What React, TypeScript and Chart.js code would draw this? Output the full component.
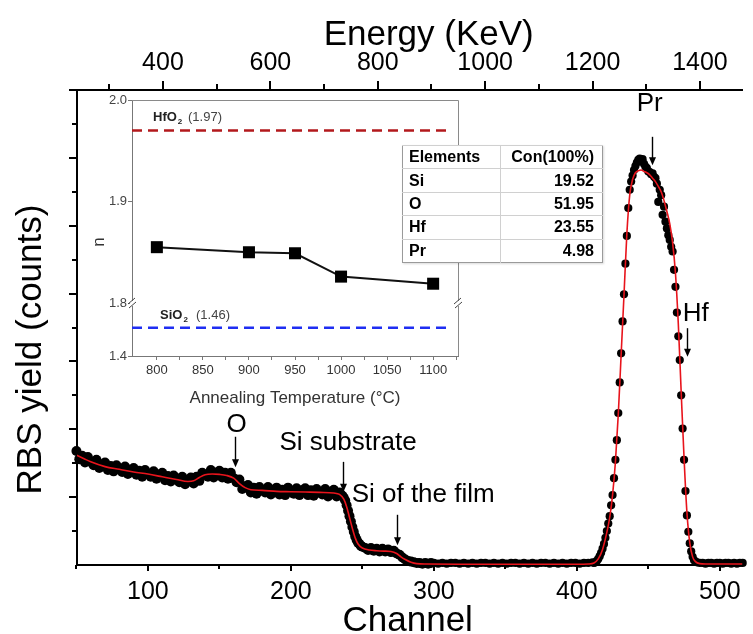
import React, { useEffect, useRef } from "react";
import { Chart, registerables } from "chart.js";

Chart.register(...registerables);

const FONT = '"Liberation Sans", Arial, Helvetica, sans-serif';

// ---------------- RBS spectrum (yield in major-tick units vs channel) ----------------
const band1Start = 50;
const band1Step = 2;
const band1Counts = [
  1.68, 1.56, 1.61, 1.51, 1.59, 1.52, 1.47, 1.55, 1.43, 1.48,
  1.51, 1.4, 1.46, 1.38, 1.47, 1.41, 1.37, 1.45, 1.34, 1.4,
  1.43, 1.33, 1.39, 1.3, 1.4, 1.34, 1.3, 1.38, 1.27, 1.33,
  1.36, 1.25, 1.31, 1.23, 1.32, 1.26, 1.22, 1.3, 1.19, 1.25,
  1.29, 1.2, 1.3, 1.24, 1.36, 1.33, 1.3, 1.4, 1.29, 1.36,
  1.39, 1.29, 1.36, 1.27, 1.36, 1.28, 1.22, 1.26, 1.12, 1.16,
  1.18, 1.07, 1.14, 1.05, 1.15, 1.1, 1.07, 1.15, 1.04, 1.11,
  1.14, 1.04, 1.11, 1.03, 1.14, 1.08, 1.05, 1.13, 1.03, 1.1,
  1.13, 1.03, 1.1, 1.02, 1.12, 1.07, 1.04, 1.12, 1.01, 1.08,
  1.11, 1.01, 1.07,
];
const edgeStart = 235;
const edgeCounts = [
  1.04, 1.02, 0.99, 0.95, 0.88, 0.8, 0.72, 0.64, 0.56, 0.49, 0.42, 0.37, 0.33, 0.31, 0.28, 0.27,
];
const band2Start = 252;
const band2Step = 2;
const band2Counts = [
  0.25, 0.22, 0.25, 0.21, 0.24, 0.2, 0.24, 0.2, 0.23, 0.19, 0.21, 0.17,
  0.15, 0.11, 0.08, 0.06, 0.05, 0.04, 0.03, 0.03, 0.02, 0.03, 0.02, 0.03,
];
const flatStart = 300;
const flatStep = 3;
const flatCounts = [
  0.03, 0.02, 0.03, 0.02, 0.03, 0.03, 0.02, 0.03, 0.02, 0.03,
  0.02, 0.03, 0.03, 0.02, 0.03, 0.02, 0.03, 0.02, 0.03, 0.03,
  0.02, 0.03, 0.02, 0.03, 0.02, 0.03, 0.03, 0.02, 0.03, 0.02,
  0.03, 0.02, 0.03, 0.03, 0.02, 0.03, 0.03, 0.04,
];
const peakStart = 412;
const peakCounts = [
  0.03, 0.04, 0.06, 0.09, 0.13, 0.18, 0.24, 0.31, 0.4, 0.5,
  0.61, 0.72, 0.88, 1.03, 1.28, 1.55, 1.84, 2.24, 2.69, 3.12,
  3.59, 3.99, 4.44, 4.85, 5.26, 5.53, 5.65, 5.74, 5.82, 5.88,
  5.93, 5.97, 5.99, 5.95, 5.98, 5.91, 5.87, 5.85, 5.8, 5.79,
  5.76, 5.77, 5.72, 5.7, 5.62, 5.35, 5.53, 5.45, 5.16, 5.28,
  5.06, 4.96, 4.86, 4.79, 4.69, 4.62, 4.35, 4.1, 3.72, 3.37,
  3.02, 2.5, 2.01, 1.55, 1.09, 0.73, 0.49, 0.32, 0.2, 0.12,
  0.07, 0.05, 0.04,
];
const tailStart = 486;
const tailStep = 2;
const tailCounts = [
  0.03, 0.03, 0.02, 0.03, 0.03, 0.02, 0.03, 0.03, 0.02, 0.03, 0.03, 0.02, 0.03, 0.02, 0.03, 0.03,
];

// simulated (fit) spectrum
const fitChannels = [
  50, 55, 60, 70, 80, 90, 100, 110, 120, 128,
  132, 136, 140, 145, 150, 155, 160, 164, 168, 172,
  180, 190, 200, 210, 220, 230, 234, 237, 239, 241,
  243, 245, 247, 250, 255, 260, 265, 270, 274, 277,
  280, 284, 288, 295, 320, 360, 400, 408, 412, 415,
  418, 421, 423, 425, 427, 429, 431, 433, 435, 437,
  439, 441, 443, 445, 447, 449, 451, 453, 455, 457,
  459, 461, 463, 465, 467, 469, 471, 473, 475, 477,
  479, 481, 483, 486, 490, 500, 516,
];
const fitCounts = [
  1.62, 1.57, 1.52, 1.45, 1.41, 1.37, 1.34, 1.3, 1.26, 1.23,
  1.24, 1.29, 1.33, 1.34, 1.335, 1.32, 1.28, 1.2, 1.14, 1.11,
  1.1, 1.085, 1.08, 1.075, 1.07, 1.06, 1.04, 0.97, 0.86, 0.7,
  0.54, 0.4, 0.31, 0.25, 0.22, 0.21, 0.205, 0.2, 0.17, 0.12,
  0.08, 0.04, 0.02, 0.015, 0.012, 0.012, 0.012, 0.015, 0.03, 0.09,
  0.23, 0.48, 0.7, 1.03, 1.52, 2.22, 3.1, 3.98, 4.88, 5.45,
  5.68, 5.78, 5.81, 5.82, 5.8, 5.78, 5.75, 5.7, 5.65, 5.58,
  5.5, 5.37, 5.21, 5.03, 4.75, 4.3, 3.55, 2.55, 1.58, 0.78,
  0.33, 0.12, 0.05, 0.02, 0.015, 0.015, 0.015,
];

const channelTicks = [100, 200, 300, 400, 500];
const channelMinorTicks = [50, 100, 150, 200, 250, 300, 350, 400, 450, 500];
const energyTicks = [400, 600, 800, 1000, 1200, 1400];
const energyMinorTicks = [300, 400, 500, 600, 700, 800, 900, 1000, 1100, 1200, 1300, 1400];
const yieldTicks = [0.5, 1, 1.5, 2, 2.5, 3, 3.5, 4, 4.5, 5, 5.5, 6, 6.5, 7];

const CH_MIN = 50.4;
const CH_MAX = 515.8;
const E_MIN = 240;
const E_MAX = 1479;
const Y_MAX = 7;

// peak labels with arrows (channel, yield)
const peakLabels = [
  { text: "O", ch: 162, v: 1.96, align: "center", arrowCh: 160.6, arrowFrom: 1.89, arrowTo: 1.44 },
  { text: "Si substrate", ch: 192, v: 1.695, align: "left", arrowCh: 236.8, arrowFrom: 1.52, arrowTo: 1.08 },
  { text: "Si of the film", ch: 242.5, v: 0.93, align: "left", arrowCh: 274.2, arrowFrom: 0.74, arrowTo: 0.29 },
  { text: "Pr", ch: 451, v: 6.69, align: "center", arrowCh: 452.9, arrowFrom: 6.31, arrowTo: 5.89 },
  { text: "Hf", ch: 474.1, v: 3.6, align: "left", arrowCh: 477, arrowFrom: 3.49, arrowTo: 3.07 },
];

// ---------------- Inset: refractive index vs annealing temperature ----------------
const annealTemps = [800, 900, 950, 1000, 1100];
const refractiveIndex = [1.855, 1.85, 1.849, 1.826, 1.819];
const hfo2Index = 1.97;
const sio2Index = 1.46;
const T_MIN = 773;
const T_MAX = 1127;
const refLineEnd = 1115;
const insetTempTicks = [800, 825, 850, 875, 900, 925, 950, 975, 1000, 1025, 1050, 1075, 1100, 1125];
const upperTicks = [1.8, 1.9, 2.0];
const lowerTicks = [1.4];

// ---------------- Composition table ----------------
const tableHeader = ["Elements", "Con(100%)"];
const elementNames = ["Si", "O", "Hf", "Pr"];
const elementConc = [19.52, 51.95, 23.55, 4.98];

function seg(start: number, step: number, values: number[]) {
  return values.map((v, i) => ({ x: start + i * step, y: v }));
}

const mainDecor = {
  id: "mainDecor",
  afterDraw(chart: any) {
    const { ctx, chartArea } = chart;
    const { left, right, top, bottom } = chartArea;
    const xs = chart.scales.x;
    const xe = chart.scales.xTop;
    const ys = chart.scales.y;
    ctx.save();
    ctx.strokeStyle = "#000";
    ctx.lineWidth = 2;
    ctx.beginPath();
    channelMinorTicks.forEach((c) => {
      const p = Math.round(xs.getPixelForValue(c));
      const l = c % 100 === 0 ? 6 : 4;
      ctx.moveTo(p, bottom);
      ctx.lineTo(p, bottom + l);
    });
    energyMinorTicks.forEach((e) => {
      const p = Math.round(xe.getPixelForValue(e));
      const l = e % 200 === 0 ? 9 : 6;
      ctx.moveTo(p, top);
      ctx.lineTo(p, top - l);
    });
    yieldTicks.forEach((v) => {
      const p = Math.round(ys.getPixelForValue(v));
      const l = Number.isInteger(v) ? 8 : 5;
      ctx.moveTo(left, p);
      ctx.lineTo(left - l, p);
    });
    ctx.stroke();

    // axis titles
    ctx.fillStyle = "#000";
    ctx.font = `35px ${FONT}`;
    ctx.textAlign = "center";
    ctx.textBaseline = "alphabetic";
    ctx.fillText("Channel", (left + right) / 2 - 2, 631);
    ctx.fillText("Energy (KeV)", (left + right) / 2 + 19, 45);
    ctx.save();
    ctx.translate(41, (top + bottom) / 2 + 22);
    ctx.rotate(-Math.PI / 2);
    ctx.fillText("RBS yield (counts)", 0, 0);
    ctx.restore();

    // peak labels and arrows
    ctx.font = `26px ${FONT}`;
    peakLabels.forEach((a) => {
      ctx.textAlign = a.align as CanvasTextAlign;
      ctx.fillText(a.text, xs.getPixelForValue(a.ch), ys.getPixelForValue(a.v));
      const ax = Math.round(xs.getPixelForValue(a.arrowCh)) + 0.5;
      const y1 = ys.getPixelForValue(a.arrowFrom);
      const y2 = ys.getPixelForValue(a.arrowTo);
      ctx.lineWidth = 1.4;
      ctx.beginPath();
      ctx.moveTo(ax, y1);
      ctx.lineTo(ax, y2 - 6);
      ctx.stroke();
      ctx.beginPath();
      ctx.moveTo(ax - 3.5, y2 - 8);
      ctx.lineTo(ax + 3.5, y2 - 8);
      ctx.lineTo(ax, y2);
      ctx.closePath();
      ctx.fill();
    });
    ctx.restore();
  },
};

const insetDecor = {
  id: "insetDecor",
  afterDraw(chart: any) {
    const { ctx, chartArea } = chart;
    const { left, right, top, bottom } = chartArea;
    const yTop = chart.scales.yTop;
    const yBottom = chart.scales.yBottom;
    ctx.save();
    ctx.strokeStyle = "#8a8a8a";
    ctx.lineWidth = 1;
    ctx.beginPath();
    ctx.moveTo(left, Math.round(top) + 0.5);
    ctx.lineTo(Math.round(right) + 0.5, Math.round(top) + 0.5);
    ctx.lineTo(Math.round(right) + 0.5, bottom);
    ctx.stroke();

    // axis break marks
    const by = yTop.bottom;
    [left, right].forEach((ax) => {
      ctx.fillStyle = "#fff";
      ctx.fillRect(ax - 2, by - 2, 4, 5);
      ctx.strokeStyle = "#444";
      ctx.beginPath();
      ctx.moveTo(ax - 4, by + 1);
      ctx.lineTo(ax + 3, by - 5);
      ctx.moveTo(ax - 3, by + 5);
      ctx.lineTo(ax + 4, by - 1);
      ctx.stroke();
    });

    // reference labels
    const drawRef = (name: string, value: number, yPix: number, nameX: number, valX: number) => {
      const by2 = yPix - 9;
      ctx.textAlign = "left";
      ctx.textBaseline = "alphabetic";
      ctx.fillStyle = "#222";
      ctx.font = `bold 13px ${FONT}`;
      ctx.fillText(name, left + nameX, by2);
      const w = ctx.measureText(name).width;
      ctx.font = `bold 8px ${FONT}`;
      ctx.fillText("2", left + nameX + w + 1, by2 + 3);
      ctx.font = `13px ${FONT}`;
      ctx.fillStyle = "#444";
      ctx.fillText(`(${value.toFixed(2)})`, left + valX, by2);
    };
    drawRef("HfO", hfo2Index, yTop.getPixelForValue(hfo2Index), 21, 56);
    drawRef("SiO", sio2Index, yBottom.getPixelForValue(sio2Index), 28, 64);

    // y title "n"
    ctx.save();
    ctx.translate(44, 157);
    ctx.rotate(-Math.PI / 2);
    ctx.font = `17px ${FONT}`;
    ctx.fillStyle = "#333";
    ctx.textAlign = "center";
    ctx.fillText("n", 0, 0);
    ctx.restore();
    ctx.restore();
  },
};

export default function App() {
  const mainRef = useRef<HTMLCanvasElement>(null);
  const insetRef = useRef<HTMLCanvasElement>(null);

  useEffect(() => {
    const dots = [
      ...seg(band1Start, band1Step, band1Counts),
      ...seg(edgeStart, 1, edgeCounts),
      ...seg(band2Start, band2Step, band2Counts),
      ...seg(flatStart, flatStep, flatCounts),
      ...seg(peakStart, 1, peakCounts),
      ...seg(tailStart, tailStep, tailCounts),
    ];
    const fit = fitChannels.map((c, i) => ({ x: c, y: fitCounts[i] }));
    const dotRadius = (c: any) => (c.raw && c.raw.x < 300 ? 5 : 4.1);

    const main = new Chart(mainRef.current as HTMLCanvasElement, {
      type: "scatter",
      data: {
        datasets: [
          {
            label: "Experimental",
            data: dots,
            showLine: false,
            pointRadius: dotRadius,
            pointHoverRadius: dotRadius,
            pointBackgroundColor: "#000",
            pointBorderWidth: 0,
            clip: false,
            order: 1,
          } as any,
          {
            label: "Simulated",
            data: fit,
            showLine: true,
            borderColor: "#e8141c",
            borderWidth: 1.6,
            pointRadius: 0,
            cubicInterpolationMode: "monotone",
            order: 0,
          } as any,
        ],
      },
      options: {
        responsive: false,
        animation: false,
        events: [],
        layout: { padding: 0 },
        plugins: { legend: { display: false }, tooltip: { enabled: false } },
        scales: {
          x: {
            type: "linear",
            position: "bottom",
            min: CH_MIN,
            max: CH_MAX,
            afterBuildTicks: (s: any) => {
              s.ticks = channelTicks.map((v) => ({ value: v }));
            },
            afterFit: (s: any) => {
              s.height = 69;
            },
            grid: { display: false, drawTicks: false },
            border: { display: true, color: "#000", width: 2 },
            ticks: {
              font: { family: FONT, size: 25 },
              color: "#000",
              padding: 12,
              maxRotation: 0,
              callback: (v: any) => String(v),
            },
          },
          xTop: {
            type: "linear",
            position: "top",
            min: E_MIN,
            max: E_MAX,
            afterBuildTicks: (s: any) => {
              s.ticks = energyTicks.map((v) => ({ value: v }));
            },
            afterFit: (s: any) => {
              s.height = 90;
            },
            grid: { display: false, drawTicks: false },
            border: { display: true, color: "#000", width: 2 },
            ticks: {
              font: { family: FONT, size: 25 },
              color: "#000",
              padding: 12,
              maxRotation: 0,
              callback: (v: any) => String(v),
            },
          },
          y: {
            type: "linear",
            position: "left",
            min: 0,
            max: Y_MAX,
            afterFit: (s: any) => {
              s.width = 77;
            },
            grid: { display: false, drawTicks: false },
            border: { display: true, color: "#000", width: 2 },
            ticks: { display: false },
          },
        } as any,
      },
      plugins: [mainDecor],
    });

    const inset = new Chart(insetRef.current as HTMLCanvasElement, {
      type: "line",
      data: {
        datasets: [
          {
            label: "n",
            data: annealTemps.map((t, i) => ({ x: t, y: refractiveIndex[i] })),
            yAxisID: "yTop",
            borderColor: "#111",
            borderWidth: 2,
            pointStyle: "rect",
            pointRadius: 8.5,
            pointBackgroundColor: "#000",
            pointBorderColor: "#000",
            pointBorderWidth: 0,
          },
          {
            label: "HfO2",
            data: [
              { x: T_MIN, y: hfo2Index },
              { x: refLineEnd, y: hfo2Index },
            ],
            yAxisID: "yTop",
            borderColor: "#b3191c",
            borderDash: [10, 6],
            borderWidth: 2.5,
            pointRadius: 0,
          },
          {
            label: "SiO2",
            data: [
              { x: T_MIN, y: sio2Index },
              { x: refLineEnd, y: sio2Index },
            ],
            yAxisID: "yBottom",
            borderColor: "#1f2ef2",
            borderDash: [10, 6],
            borderWidth: 2.5,
            pointRadius: 0,
          },
        ] as any,
      },
      options: {
        responsive: false,
        animation: false,
        events: [],
        layout: { padding: { top: 15, right: 12, left: 0, bottom: 0 } },
        plugins: { legend: { display: false }, tooltip: { enabled: false } },
        scales: {
          x: {
            type: "linear",
            min: T_MIN,
            max: T_MAX,
            afterBuildTicks: (s: any) => {
              s.ticks = insetTempTicks.map((v) => ({ value: v }));
            },
            afterFit: (s: any) => {
              s.height = 59;
            },
            grid: { display: true, drawOnChartArea: false, drawTicks: true, tickLength: 4, color: "#777", lineWidth: 1 },
            border: { display: true, color: "#777", width: 1 },
            ticks: {
              font: { family: FONT, size: 13 },
              color: "#333",
              padding: 3,
              maxRotation: 0,
              autoSkip: false,
              callback: (v: any) => (Number(v) % 50 === 0 ? String(v) : ""),
            },
            title: {
              display: true,
              text: "Annealing Temperature (°C)",
              font: { family: FONT, size: 17 },
              color: "#333",
              padding: { top: 0, bottom: 6 },
            },
          },
          yBottom: {
            type: "linear",
            position: "left",
            stack: "n",
            stackWeight: 53,
            min: 1.4,
            max: 1.513,
            afterBuildTicks: (s: any) => {
              s.ticks = lowerTicks.map((v) => ({ value: v }));
            },
            afterFit: (s: any) => {
              s.width = 72;
            },
            grid: { display: true, drawOnChartArea: false, drawTicks: true, tickLength: 4, color: "#777" },
            border: { display: true, color: "#777", width: 1 },
            ticks: { font: { family: FONT, size: 13 }, color: "#444", padding: 1, callback: (v: any) => Number(v).toFixed(1) },
          },
          yTop: {
            type: "linear",
            position: "left",
            stack: "n",
            stackWeight: 203,
            min: 1.8,
            max: 2.0,
            afterBuildTicks: (s: any) => {
              s.ticks = upperTicks.map((v) => ({ value: v }));
            },
            afterFit: (s: any) => {
              s.width = 72;
            },
            grid: { display: true, drawOnChartArea: false, drawTicks: true, tickLength: 4, color: "#777" },
            border: { display: true, color: "#777", width: 1 },
            ticks: { font: { family: FONT, size: 13 }, color: "#444", padding: 1, callback: (v: any) => Number(v).toFixed(1) },
          },
        } as any,
      },
      plugins: [insetDecor],
    });

    return () => {
      main.destroy();
      inset.destroy();
    };
  }, []);

  const cellBase: React.CSSProperties = {
    padding: "0 8px 0 6px",
    borderTop: "1px solid #d0d0d0",
    lineHeight: "20px",
    whiteSpace: "nowrap",
  };

  return (
    <div style={{ position: "absolute", left: 0, top: 0, width: 753, height: 634, background: "#fff", overflow: "hidden" }}>
      <canvas ref={mainRef} width={753} height={634} style={{ position: "absolute", left: 0, top: 0, width: 753, height: 634 }} />
      <canvas ref={insetRef} width={410} height={330} style={{ position: "absolute", left: 60, top: 85, width: 410, height: 330 }} />
      <table
        style={{
          position: "absolute",
          left: 402,
          top: 145,
          width: 201,
          borderCollapse: "collapse",
          background: "#fff",
          fontFamily: FONT,
          fontWeight: "bold",
          fontSize: 16,
          color: "#000",
          border: "1px solid #9a9a9a",
          boxShadow: "1px 1px 2px rgba(0,0,0,0.15)",
        }}
      >
        <tbody>
          <tr style={{ height: 23.4 }}>
            <td style={{ ...cellBase, width: 83, borderRight: "1px solid #d0d0d0", textAlign: "left" }}>{tableHeader[0]}</td>
            <td style={{ ...cellBase, textAlign: "right" }}>{tableHeader[1]}</td>
          </tr>
          {elementNames.map((name, i) => (
            <tr key={name} style={{ height: 23.4 }}>
              <td style={{ ...cellBase, borderRight: "1px solid #d0d0d0", textAlign: "left" }}>{name}</td>
              <td style={{ ...cellBase, textAlign: "right" }}>{elementConc[i].toFixed(2)}</td>
            </tr>
          ))}
        </tbody>
      </table>
    </div>
  );
}
